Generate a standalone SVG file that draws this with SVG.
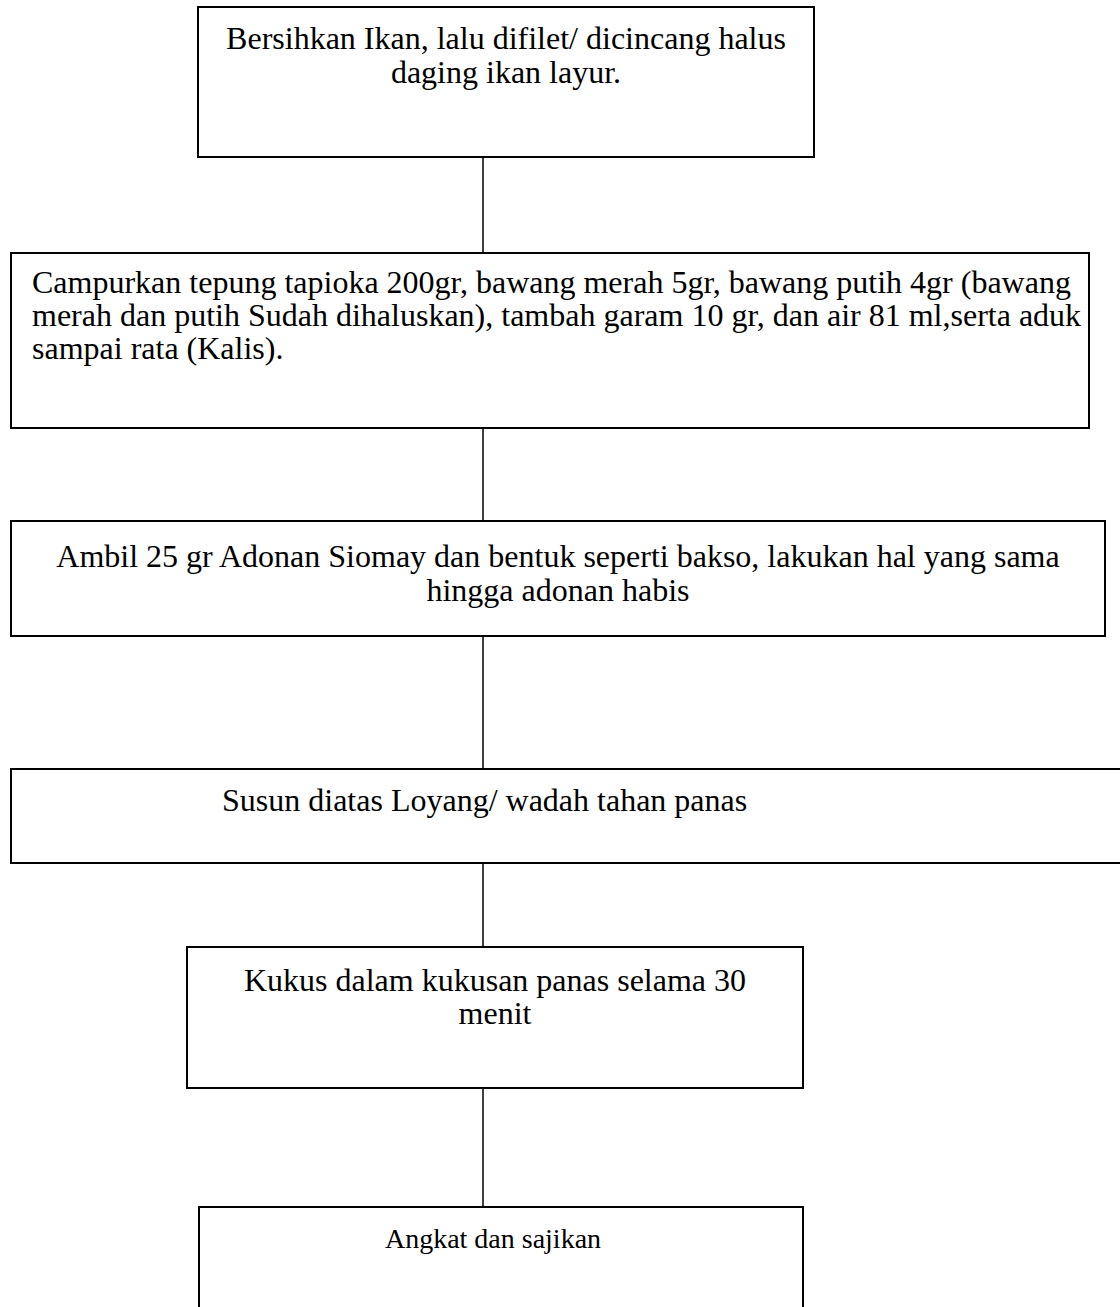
<svg xmlns="http://www.w3.org/2000/svg" width="1120" height="1307" viewBox="0 0 1120 1307">
<style>
.box{fill:#fff;stroke:#000;stroke-width:2}
.t{font-family:"Liberation Serif","Times New Roman",serif;font-size:32px;fill:#000}
.c{text-anchor:middle}
.conn line{stroke:#000;stroke-width:1.5}
</style>
<rect width="1120" height="1307" fill="#fff"/>
<g class="conn">
<line x1="483" y1="157" x2="483" y2="253"/>
<line x1="483" y1="428" x2="483" y2="521"/>
<line x1="483" y1="636" x2="483" y2="769"/>
<line x1="483" y1="863" x2="483" y2="947"/>
<line x1="483" y1="1088" x2="483" y2="1207"/>
</g>
<g id="n1">
<rect class="box" x="198" y="7" width="616" height="150"/>
<text class="t c" x="506" y="49">Bersihkan Ikan, lalu difilet/ dicincang halus</text>
<text class="t c" x="506" y="83">daging ikan layur.</text>
</g>
<g id="n2">
<rect class="box" x="11" y="253" width="1078" height="175"/>
<text class="t" x="32" y="293">Campurkan tepung tapioka 200gr, bawang merah 5gr, bawang putih 4gr (bawang</text>
<text class="t" x="32" y="326">merah dan putih Sudah dihaluskan), tambah garam 10 gr, dan air 81 ml,serta aduk</text>
<text class="t" x="32" y="359">sampai rata (Kalis).</text>
</g>
<g id="n3">
<rect class="box" x="11" y="521" width="1094" height="115"/>
<text class="t c" x="558" y="567">Ambil 25 gr Adonan Siomay dan bentuk seperti bakso, lakukan hal yang sama</text>
<text class="t c" x="558" y="601">hingga adonan habis</text>
</g>
<g id="n4">
<rect class="box" x="11" y="769" width="1120" height="94"/>
<text class="t" x="222" y="811">Susun diatas Loyang/ wadah tahan panas</text>
</g>
<g id="n5">
<rect class="box" x="187" y="947" width="616" height="141"/>
<text class="t c" x="495" y="991">Kukus dalam kukusan panas selama 30</text>
<text class="t c" x="495" y="1024">menit</text>
</g>
<g id="n6">
<rect class="box" x="199" y="1207" width="604" height="120"/>
<text class="t c" x="493" y="1248" style="font-size:28px">Angkat dan sajikan</text>
</g>
</svg>
